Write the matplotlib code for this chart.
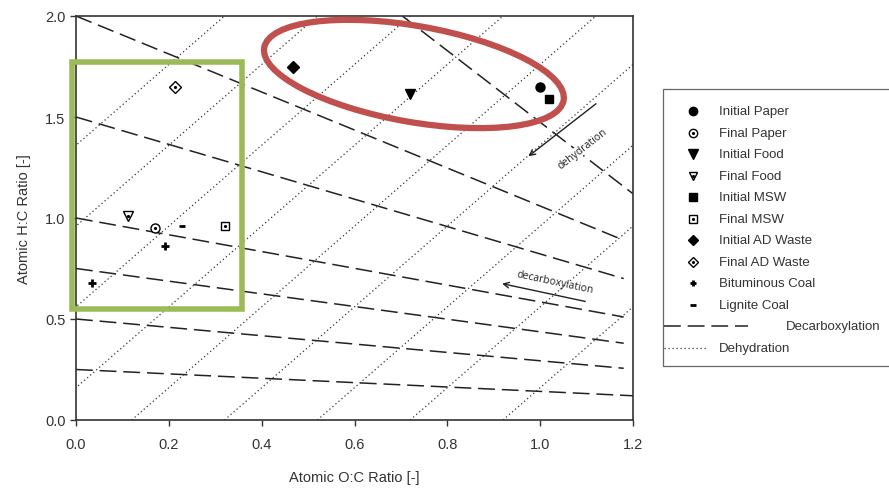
import matplotlib
matplotlib.use("Agg")
import matplotlib.pyplot as plt
from matplotlib.patches import Ellipse, Rectangle
from matplotlib.lines import Line2D
from matplotlib import transforms

plt.rcParams['font.family'] = ['Liberation Sans', 'DejaVu Sans']

# sample points (O:C, H:C)
labels = ['Initial Paper', 'Final Paper', 'Initial Food', 'Final Food', 'Initial MSW',
          'Final MSW', 'Initial AD Waste', 'Final AD Waste', 'Bituminous Coal', 'Lignite Coal']
oc = [[1.00], [0.17], [0.72], [0.113], [1.02], [0.32], [0.468], [0.213], [0.192, 0.034], [0.229]]
hc = [[1.65], [0.95], [1.615], [1.01], [1.59], [0.96], [1.75], [1.65], [0.86, 0.678], [0.96]]

# decarboxylation guide lines (start / end points)
decarb_x0 = [0.0, 0.0, 0.0, 0.0, 0.0, 0.0, 0.703]
decarb_y0 = [2.0, 1.5, 1.0, 0.75, 0.5, 0.25, 2.0]
decarb_x1 = [1.18, 1.18, 1.18, 1.18, 1.18, 1.2, 1.2]
decarb_y1 = [0.89, 0.70, 0.51, 0.38, 0.256, 0.12, 1.12]

# dehydration guide lines: O:C where they meet H:C = 0 and H:C = 2
dehyd_x0 = [-0.68, -0.48, -0.28, -0.08, 0.12, 0.32, 0.52, 0.72, 0.92]
dehyd_x1 = [0.32, 0.52, 0.72, 0.92, 1.12, 1.32, 1.52, 1.72, 1.92]

xticks = [0.0, 0.2, 0.4, 0.6, 0.8, 1.0, 1.2]
yticks = [0.0, 0.5, 1.0, 1.5, 2.0]

# marker styles
markers = ['o', 'o', 'v', 'v', 's', 's', 'D', 'D', '+', '_']
filled = [True, False, True, False, True, False, True, False, True, True]
msizes = [6.5, 6.5, 7, 6.5, 6, 6, 6, 6, 6, 5]

W, H = 889, 489
fig = plt.figure(figsize=(W / 100, H / 100), dpi=100)
ax = fig.add_axes([76 / W, 1 - 421 / H, (633 - 76) / W, (421 - 17) / H])

for a, b, c, d in zip(decarb_x0, decarb_y0, decarb_x1, decarb_y1):
    ax.plot([a, c], [b, d], color='#222222', lw=1.1, dashes=(11, 4.5))
for a, c in zip(dehyd_x0, dehyd_x1):
    ax.plot([a, c], [0, 2.0], color='#333333', lw=0.9, dashes=(1, 2.2))


def draw_marker(target, xs, ys, m, f, ms, **kw):
    if m in ('+', '_'):
        target.plot(xs, ys, ls='none', marker=m, ms=ms, mew=2, color='black', **kw)
    elif f:
        target.plot(xs, ys, ls='none', marker=m, ms=ms, color='black', **kw)
    else:
        target.plot(xs, ys, ls='none', marker=m, ms=ms, mfc='white', mec='black', mew=1, **kw)
        target.plot(xs, ys, ls='none', marker='.', ms=2.5, color='black', **kw)


for xs, ys, m, f, ms in zip(oc, hc, markers, filled, msizes):
    draw_marker(ax, xs, ys, m, f, ms, zorder=5)

ax.set_xlim(0, 1.2)
ax.set_ylim(0, 2.0)
ax.set_xticks(xticks)
ax.set_yticks(yticks)
ax.set_xticklabels(['%.1f' % v for v in xticks])
ax.set_yticklabels(['%.1f' % v for v in yticks])
ax.tick_params(direction='out', length=4, width=1, labelsize=10.5, labelcolor='#333333', color='#333333')
ax.tick_params(axis='x', pad=8)
for s in ax.spines.values():
    s.set_color('#333333')
    s.set_linewidth(1.2)
ax.set_xlabel('Atomic O:C Ratio [-]', fontsize=10.5, color='#333333', labelpad=14)
ax.set_ylabel('Atomic H:C Ratio [-]', fontsize=10.5, color='#333333', labelpad=10)

# arrows and notes
ax.annotate('', xy=(0.97, 1.297), xytext=(1.125, 1.574),
            arrowprops=dict(arrowstyle='->', lw=1, color='#222222'))
ax.text(1.092, 1.345, 'dehydration', rotation=38, fontsize=7.5, color='#222222',
        ha='center', va='center', family=['Open Sans', 'DejaVu Sans'], zorder=4,
        bbox=dict(fc='white', ec='none', pad=0.2))
ax.annotate('', xy=(0.912, 0.678), xytext=(1.103, 0.584),
            arrowprops=dict(arrowstyle='->', lw=1, color='#222222'))
ax.text(1.032, 0.683, 'decarboxylation', rotation=-12, fontsize=7.5, color='#222222',
        ha='center', va='center', family=['Open Sans', 'DejaVu Sans'])

# highlight shapes
tr = fig.dpi_scale_trans + transforms.ScaledTranslation(0.728, 1.713, ax.transData)
ax.add_patch(Ellipse((0, 0), 3.04, 0.96, angle=-10, fill=False, ec='#C0504D', lw=4.5,
                     transform=tr, clip_on=False, zorder=6))
ax.add_patch(Rectangle((-0.008, 0.55), 0.366, 1.224, fill=False, ec='#9BBB59', lw=4,
                       clip_on=False, zorder=6))

# legend drawn by hand (long handle for the dashed line)
fig.add_artist(Rectangle((663 / W, 1 - 367 / H), 0.3, (367 - 90) / H, fill=False,
                         ec='#666666', lw=0.9, transform=fig.transFigure))
for i, (lab, m, f, ms) in enumerate(zip(labels, markers, filled, msizes)):
    yy = 1 - (112.3 + 21.5 * i) / H
    xx = 693 / W
    if m in ('+', '_'):
        fig.add_artist(Line2D([xx], [yy], transform=fig.transFigure, ls='none', marker=m,
                              ms=ms - 1, mew=2, color='black'))
    elif f:
        fig.add_artist(Line2D([xx], [yy], transform=fig.transFigure, ls='none', marker=m,
                              ms=ms - 0.5, color='black'))
    else:
        fig.add_artist(Line2D([xx], [yy], transform=fig.transFigure, ls='none', marker=m,
                              ms=ms - 0.5, mfc='white', mec='black', mew=1))
        fig.add_artist(Line2D([xx], [yy], transform=fig.transFigure, ls='none', marker='.',
                              ms=2.5, color='black'))
    fig.text(719 / W, yy, lab, fontsize=9.5, color='#333333', va='center')

yy = 1 - (112.3 + 21.5 * 10) / H
fig.add_artist(Line2D([664 / W, 748 / W], [yy, yy], transform=fig.transFigure,
                      color='#222222', lw=1.1, dashes=(11, 4.5)))
fig.text(786 / W, yy, 'Decarboxylation', fontsize=9.5, color='#333333', va='center')
yy = 1 - (112.3 + 21.5 * 11) / H
fig.add_artist(Line2D([664 / W, 707 / W], [yy, yy], transform=fig.transFigure,
                      color='#333333', lw=0.9, dashes=(1, 2.2)))
fig.text(719 / W, yy, 'Dehydration', fontsize=9.5, color='#333333', va='center')

fig.savefig('out.png', dpi=100)
